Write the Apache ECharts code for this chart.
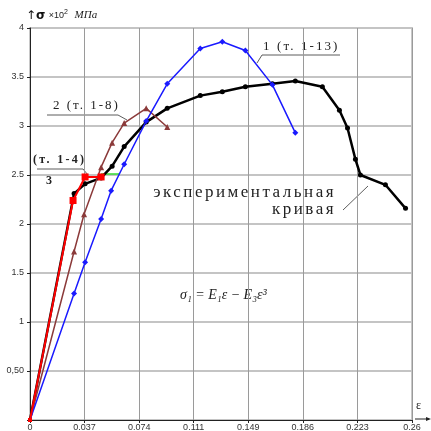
<!DOCTYPE html>
<html>
<head>
<meta charset="utf-8">
<script src="https://cdn.jsdelivr.net/npm/echarts@6/dist/echarts.min.js"></script>
<style>
  html, body { margin: 0; padding: 0; background: #fff; }
  #chart { width: 431px; height: 431px; }
</style>
</head>
<body>
<div id="chart"></div>
<script>
// experimental curve (black)
const expStrain = [0, 0.0300, 0.0375, 0.0484, 0.0559, 0.0641, 0.0791, 0.0934, 0.1159, 0.1309, 0.1466, 0.1650, 0.1806, 0.1990, 0.2106, 0.2161, 0.2215, 0.2249, 0.2419, 0.2556]
const expStress = [0, 2.31, 2.41, 2.47, 2.59, 2.79, 3.04, 3.18, 3.31, 3.35, 3.40, 3.43, 3.46, 3.40, 3.16, 2.98, 2.66, 2.50, 2.40, 2.16]

// curve 1 (points 1-13), blue
const c1Strain = [0, 0.0300, 0.0375, 0.0484, 0.0552, 0.0641, 0.0791, 0.0934, 0.1159, 0.1309, 0.1466, 0.1650, 0.1806]
const c1Stress = [0, 1.29, 1.61, 2.05, 2.34, 2.61, 3.05, 3.43, 3.79, 3.86, 3.77, 3.42, 2.93]

// curve 2 (points 1-8), brown
const c2Strain = [0, 0.0300, 0.0368, 0.0484, 0.0559, 0.0641, 0.0791, 0.0934]
const c2Stress = [0, 1.72, 2.10, 2.58, 2.83, 3.03, 3.18, 2.99]

// curve 3 (points 1-4), red
const c3Strain = [0, 0.0293, 0.0375, 0.0484]
const c3Stress = [0, 2.24, 2.48, 2.48]

// small green piece peeking out under the black curve
const greenStrain = [0.0484, 0.0607]
const greenStress = [2.51, 2.51]

const xMax = 0.26
const xStep = 0.26 / 7

// origin point gets a tiny marker, the rest use the series symbol
const zip = (xs, ys, originSize = 0) => xs.map((x, i) =>
  x === 0 && ys[i] === 0 ? { value: [x, ys[i]], symbolSize: originSize } : [x, ys[i]])

const serif = "'Liberation Serif', 'DejaVu Serif', serif"
const sans = "Arial, 'Liberation Sans', sans-serif"
const leader = { stroke: '#333', lineWidth: 0.8 }

// spaced-out captions, like the original plot
const spacing = {
  'экспериментальная': '2.5px',
  'кривая': '2.5px',
  '1 (т. 1-13)': '2.1px',
  '2 (т. 1-8)': '2px',
  '(т. 1-4)': '2.3px',
}

// canvas supports letterSpacing, zrender doesn't pass it through
const origFillText = CanvasRenderingContext2D.prototype.fillText
CanvasRenderingContext2D.prototype.fillText = function (text) {
  const s = spacing[text]
  if (!s) return origFillText.apply(this, arguments)
  const font = this.font
  this.save()
  this.letterSpacing = s
  this.font = font
  origFillText.apply(this, arguments)
  this.restore()
  this.letterSpacing = '0px'
  this.font = font
}

const chart = echarts.init(document.getElementById('chart'))

const option = {
  animation: false,
  backgroundColor: '#fff',
  grid: {
    left: 30, right: 19, top: 28, bottom: 11,
    outerBoundsMode: 'none',
    show: true,
    borderColor: '#c8c8c8',
    borderWidth: 2,
  },
  xAxis: {
    type: 'value',
    min: 0,
    max: xMax,
    interval: xStep,
    axisLine: { lineStyle: { color: '#222', width: 1 } },
    axisTick: { show: true, length: 3, lineStyle: { color: '#222' } },
    axisLabel: {
      fontSize: 9,
      margin: 3,
      color: '#333',
      fontFamily: sans,
      showMaxLabel: true,
      formatter: (v) => (v === 0 ? '0' : String(+v.toFixed(3))),
    },
    splitLine: { show: true, lineStyle: { color: '#9a9a9a', width: 1 } },
  },
  yAxis: {
    type: 'value',
    min: 0,
    max: 4,
    interval: 0.5,
    axisLine: { show: true, lineStyle: { color: '#222', width: 1 } },
    axisTick: { show: true, length: 3, lineStyle: { color: '#222' } },
    axisLabel: {
      fontSize: 9,
      margin: 6,
      color: '#333',
      fontFamily: sans,
      formatter: (v) => (v === 0 ? '' : v === 0.5 ? '0,50' : String(v)),
    },
    splitLine: { show: true, lineStyle: { color: '#c4c4c4', width: 2 } },
  },
  series: [
    {
      name: 'green',
      type: 'line',
      data: zip(greenStrain, greenStress),
      symbol: 'none',
      lineStyle: { color: '#33dd33', width: 1.5 },
      z: 1,
    },
    {
      name: 'экспериментальная кривая',
      type: 'line',
      data: zip(expStrain, expStress),
      symbol: 'circle',
      symbolSize: 5,
      showSymbol: true,
      lineStyle: { color: '#000', width: 2.5 },
      itemStyle: { color: '#000' },
      z: 2,
    },
    {
      name: '2 (т. 1-8)',
      type: 'line',
      data: zip(c2Strain, c2Stress),
      symbol: 'triangle',
      symbolSize: 6,
      lineStyle: { color: '#8b3a3a', width: 1.5 },
      itemStyle: { color: '#8b3a3a' },
      z: 3,
    },
    {
      name: '1 (т. 1-13)',
      type: 'line',
      data: zip(c1Strain, c1Stress),
      symbol: 'diamond',
      symbolSize: 6,
      lineStyle: { color: '#1a1aff', width: 1.5 },
      itemStyle: { color: '#1a1aff' },
      z: 4,
    },
    {
      name: '3 (т. 1-4)',
      type: 'line',
      data: zip(c3Strain, c3Stress, 4),
      symbol: 'rect',
      symbolSize: 7,
      lineStyle: { color: '#ff0000', width: 2 },
      itemStyle: { color: '#ff0000' },
      z: 5,
    },
  ],
  graphic: [
    // axis title top-left
    {
      type: 'text', left: 26, top: 9,
      style: {
        text: '{a|↑}{s|σ} {m|×10}{p|2}  {u|МПа}',
        rich: {
          a: { fontSize: 12, fontFamily: 'DejaVu Sans', fill: '#111' },
          s: { fontSize: 12, fontWeight: 'bold', fontFamily: 'DejaVu Sans', fill: '#111' },
          m: { fontSize: 9, fontFamily: sans, fill: '#222' },
          p: { fontSize: 7, fontFamily: sans, fill: '#222', padding: [0, 0, 6, 0] },
          u: { fontSize: 11, fontStyle: 'italic', fontFamily: serif, fill: '#222' },
        },
      },
    },
    // strain label bottom-right
    {
      type: 'text', left: 416, top: 400,
      style: { text: 'ε', fontSize: 12, fontFamily: serif, fill: '#222' },
    },
    { type: 'line', shape: { x1: 415, y1: 419, x2: 429, y2: 419 }, style: { stroke: '#222', lineWidth: 1 } },
    { type: 'polygon', shape: { points: [[431, 419], [426, 417], [426, 421]] }, style: { fill: '#222' } },

    // label 1
    {
      type: 'text', left: 263, top: 40,
      style: { text: '1 (т. 1-13)', fontSize: 13, fontFamily: serif, fill: '#222' },
    },
    { type: 'line', shape: { x1: 262, y1: 55, x2: 340, y2: 55 }, style: leader },
    { type: 'line', shape: { x1: 262, y1: 55, x2: 257, y2: 63 }, style: leader },

    // label 2
    {
      type: 'text', left: 53, top: 99,
      style: { text: '2 (т. 1-8)', fontSize: 13, fontFamily: serif, fill: '#222' },
    },
    { type: 'line', shape: { x1: 47, y1: 115, x2: 118, y2: 115 }, style: leader },
    { type: 'line', shape: { x1: 118, y1: 115, x2: 127, y2: 120 }, style: leader },

    // label 3
    {
      type: 'text', left: 33, top: 154,
      style: { text: '(т. 1-4)', fontSize: 12, fontWeight: 'bold', fontFamily: serif, fill: '#222' },
    },
    { type: 'line', shape: { x1: 37, y1: 169, x2: 83, y2: 169 }, style: leader },
    { type: 'line', shape: { x1: 83, y1: 169, x2: 88, y2: 175 }, style: leader },
    {
      type: 'text', left: 46, top: 175,
      style: { text: '3', fontSize: 12, fontWeight: 'bold', fontFamily: serif, fill: '#222' },
    },

    // experimental curve label, two right-aligned lines
    {
      type: 'text', x: 336, y: 184,
      style: {
        text: 'экспериментальная\nкривая',
        align: 'right',
        verticalAlign: 'top',
        lineHeight: 17,
        fontSize: 17,
        fontFamily: serif,
        fill: '#222',
      },
    },
    { type: 'line', shape: { x1: 343, y1: 210, x2: 368, y2: 186 }, style: leader },

    // formula
    {
      type: 'text', left: 180, top: 288,
      style: { text: 'σ₁ = E₁ε − E₃ε³', fontSize: 14, fontStyle: 'italic', fontFamily: serif, fill: '#222' },
    },
  ],
}

chart.setOption(option)
window.addEventListener('resize', chart.resize)
</script>
</body>
</html>
